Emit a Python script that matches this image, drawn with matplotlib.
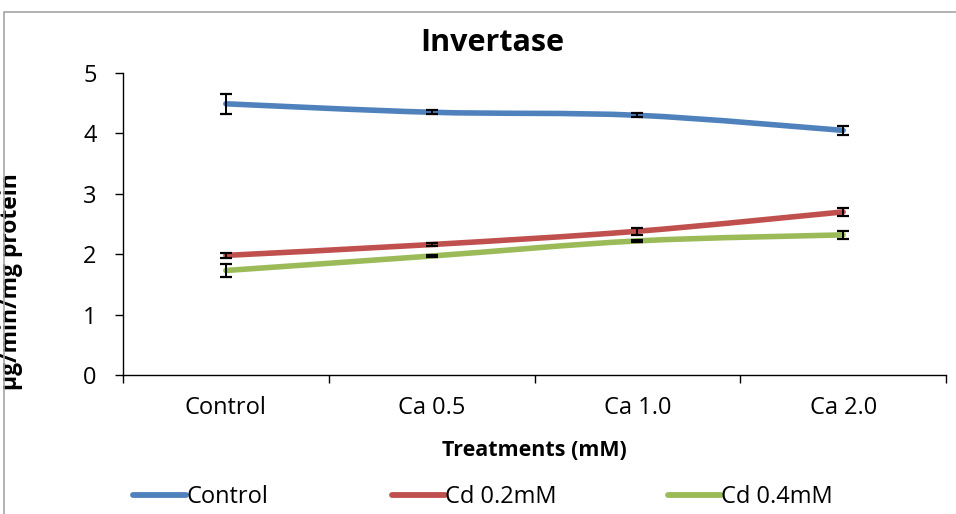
import numpy as np
import matplotlib
matplotlib.use('Agg')
import matplotlib.pyplot as plt
from matplotlib.path import Path
from matplotlib.patches import PathPatch, Rectangle
from matplotlib.lines import Line2D

plt.rcParams['font.family'] = ['Open Sans', 'DejaVu Sans']

# Data
treatments = ['Control', 'Ca 0.5', 'Ca 1.0', 'Ca 2.0']
series_names = ['Control', 'Cd 0.2mM', 'Cd 0.4mM']
control = [4.49, 4.35, 4.30, 4.05]
cd02 = [1.98, 2.16, 2.38, 2.70]
cd04 = [1.73, 1.97, 2.22, 2.32]
control_err = [0.17, 0.03, 0.03, 0.07]
cd02_err = [0.04, 0.02, 0.06, 0.07]
cd04_err = [0.11, 0.01, 0.02, 0.07]
colors = ['#4F81BD', '#C0504D', '#9BBB59']


def smooth_path(x, y):
    # Excel-style smoothed line: cubic Bezier segments through the points
    x = np.asarray(x, float)
    y = np.asarray(y, float)
    verts = [(x[0], y[0])]
    codes = [Path.MOVETO]
    n = len(x)
    for i in range(n - 1):
        x0, y0 = (x[i - 1], y[i - 1]) if i > 0 else (x[i], y[i])
        x3, y3 = (x[i + 2], y[i + 2]) if i + 2 < n else (x[i + 1], y[i + 1])
        c1 = (x[i] + (x[i + 1] - x0) / 6, y[i] + (y[i + 1] - y0) / 6)
        c2 = (x[i + 1] - (x3 - x[i]) / 6, y[i + 1] - (y3 - y[i]) / 6)
        verts += [c1, c2, (x[i + 1], y[i + 1])]
        codes += [Path.CURVE4] * 3
    return Path(verts, codes)


fig = plt.figure(figsize=(9.56, 5.14), dpi=100)
ax = fig.add_axes([123 / 956, 1 - 375 / 514, (946 - 123) / 956, (375 - 73) / 514])

# chart frame
fig.patches.append(Rectangle((4 / 956, -0.2), 1.2, 1 - 12 / 514 + 0.2,
                             transform=fig.transFigure, fill=False,
                             edgecolor='#A6A6A6', linewidth=1.2))

xpos = np.arange(len(treatments))
for vals, errs, col in zip([control, cd02, cd04], [control_err, cd02_err, cd04_err], colors):
    ax.add_patch(PathPatch(smooth_path(xpos, vals), facecolor='none',
                           edgecolor=col, linewidth=4.0, capstyle='round', zorder=3))
    ax.errorbar(xpos, vals, yerr=errs, fmt='none', ecolor='black',
                elinewidth=1.4, capsize=4.5, capthick=1.6, zorder=4)

ax.set_xlim(-0.5, len(treatments) - 0.5)
ax.set_ylim(0, 5)
ax.set_yticks(range(0, 6))
ax.set_xticks(xpos)
ax.set_xticklabels(treatments)
ax.set_xticks(np.arange(-0.5, len(treatments)), minor=True)
ax.tick_params(axis='x', which='major', length=0, labelsize=17, pad=15)
ax.tick_params(axis='x', which='minor', length=6, width=1, direction='out')
ax.tick_params(axis='y', length=6, width=1, labelsize=17, pad=13)
for s in ['top', 'right']:
    ax.spines[s].set_visible(False)
for s in ['left', 'bottom']:
    ax.spines[s].set_linewidth(1)

ax.set_xlabel('Treatments (mM)', fontsize=15.5, fontweight='bold')
ax.xaxis.set_label_coords(0.5, -0.215)
ax.set_ylabel('µg/min/mg protein', fontsize=16.5, fontweight='bold')
ax.yaxis.set_label_coords(-0.121, 0.31)
fig.text(492 / 956, 1 - 43 / 514, 'Invertase', ha='center', va='center',
         fontsize=22, fontweight='bold')

# legend entries, placed one by one like the Excel legend
legend_x = [133, 392, 668]
for name, col, lx in zip(series_names, colors, legend_x):
    h = Line2D([], [], color=col, linewidth=4.2, solid_capstyle='round')
    fig.legend([h], [name], loc='center left',
               bbox_to_anchor=(lx / 956, 1 - 497 / 514), frameon=False,
               fontsize=17, handlelength=2.25, handletextpad=0.0,
               borderaxespad=0, borderpad=0)

fig.savefig('out.png', dpi=100)
